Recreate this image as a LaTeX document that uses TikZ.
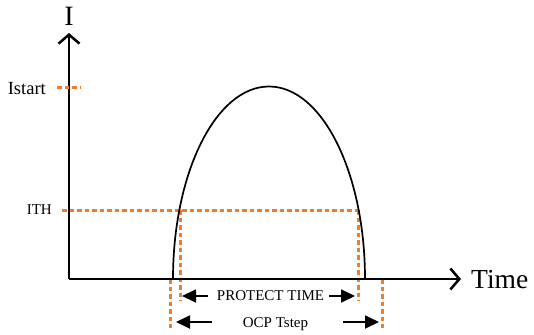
\documentclass[tikz,border=0pt]{standalone}
\usepackage{fontspec}
\setmainfont{Liberation Serif}
\usetikzlibrary{arrows.meta}
\definecolor{ocporange}{RGB}{237,125,49}
\tikzset{
  axis/.style={line width=2.5pt,-{Straight Barb[length=9pt,width=21pt,line width=2.5pt]}},
  guide/.style={draw=ocporange,line width=3pt,dash pattern=on 4.5pt off 3pt},
  span/.style={line width=1.8pt,-{Triangle[length=14pt,width=13pt]}},
  lbl/.style={inner sep=0pt,text=black}
}
\begin{document}
\begin{tikzpicture}[x=1pt,y=-1pt]
\useasboundingbox (0,0) rectangle (534,334);
% axes
\coordinate (O) at (69,279);
\coordinate (ytip) at (69,33);
\coordinate (xtip) at (461,279);
\draw[axis] (O) -- (ytip);
\draw[axis] (O) -- (xtip);
\node[lbl,anchor=base] (ilabel) at (69,26) {\fontsize{28}{30}\selectfont I};
\node[lbl,anchor=base west] (timelabel) at (471,288) {\fontsize{27.5}{30}\selectfont Time};
% level labels
\node[lbl,anchor=base east] (istart) at (46,94) {\fontsize{18.5}{20}\selectfont Istart};
\node[lbl,anchor=base east] (ith) at (52,214) {\fontsize{15}{17}\selectfont ITH};
\coordinate (is1) at (57,88);
\coordinate (is2) at (80,88);
\draw[guide] (is1) -- (is2);
% guides
\coordinate (th1) at (62,210);
\coordinate (thL) at (180,210);
\coordinate (thR) at (358,210);
\coordinate (thLb) at (180,301);
\coordinate (thRb) at (358,301);
\coordinate (oL) at (170,279);
\coordinate (oR) at (382,279);
\coordinate (oLb) at (170,328);
\coordinate (oRb) at (382,328);
\draw[guide] (th1) -- (thR);
\draw[guide] (thL) -- (thLb);
\draw[guide] (thR) -- (thRb);
\draw[guide] (oL) -- (oLb);
\draw[guide] (oR) -- (oRb);
% curve
\coordinate (cstart) at (173,279);
\draw[line width=1.7pt] (cstart) arc[start angle=180,end angle=0,x radius=96pt,y radius=192.5pt];
% redraw axis on top
\draw[line width=2.5pt] (O) -- (455,279);
% spans
\node[lbl,anchor=base] (prot) at (270.5,300.5) {\fontsize{15}{17}\selectfont PROTECT TIME};
\node[lbl,anchor=base] (ocp) at (275.5,327.5) {\fontsize{15}{17}\selectfont OCP Tstep};
\coordinate (p1) at (208,296);
\coordinate (p1t) at (182,296);
\coordinate (p2) at (329,296);
\coordinate (p2t) at (355,296);
\coordinate (q1) at (212,322);
\coordinate (q1t) at (176,322);
\coordinate (q2) at (343,322);
\coordinate (q2t) at (379,322);
\draw[span] (p1) -- (p1t);
\draw[span] (p2) -- (p2t);
\draw[span] (q1) -- (q1t);
\draw[span] (q2) -- (q2t);
\end{tikzpicture}
\end{document}
